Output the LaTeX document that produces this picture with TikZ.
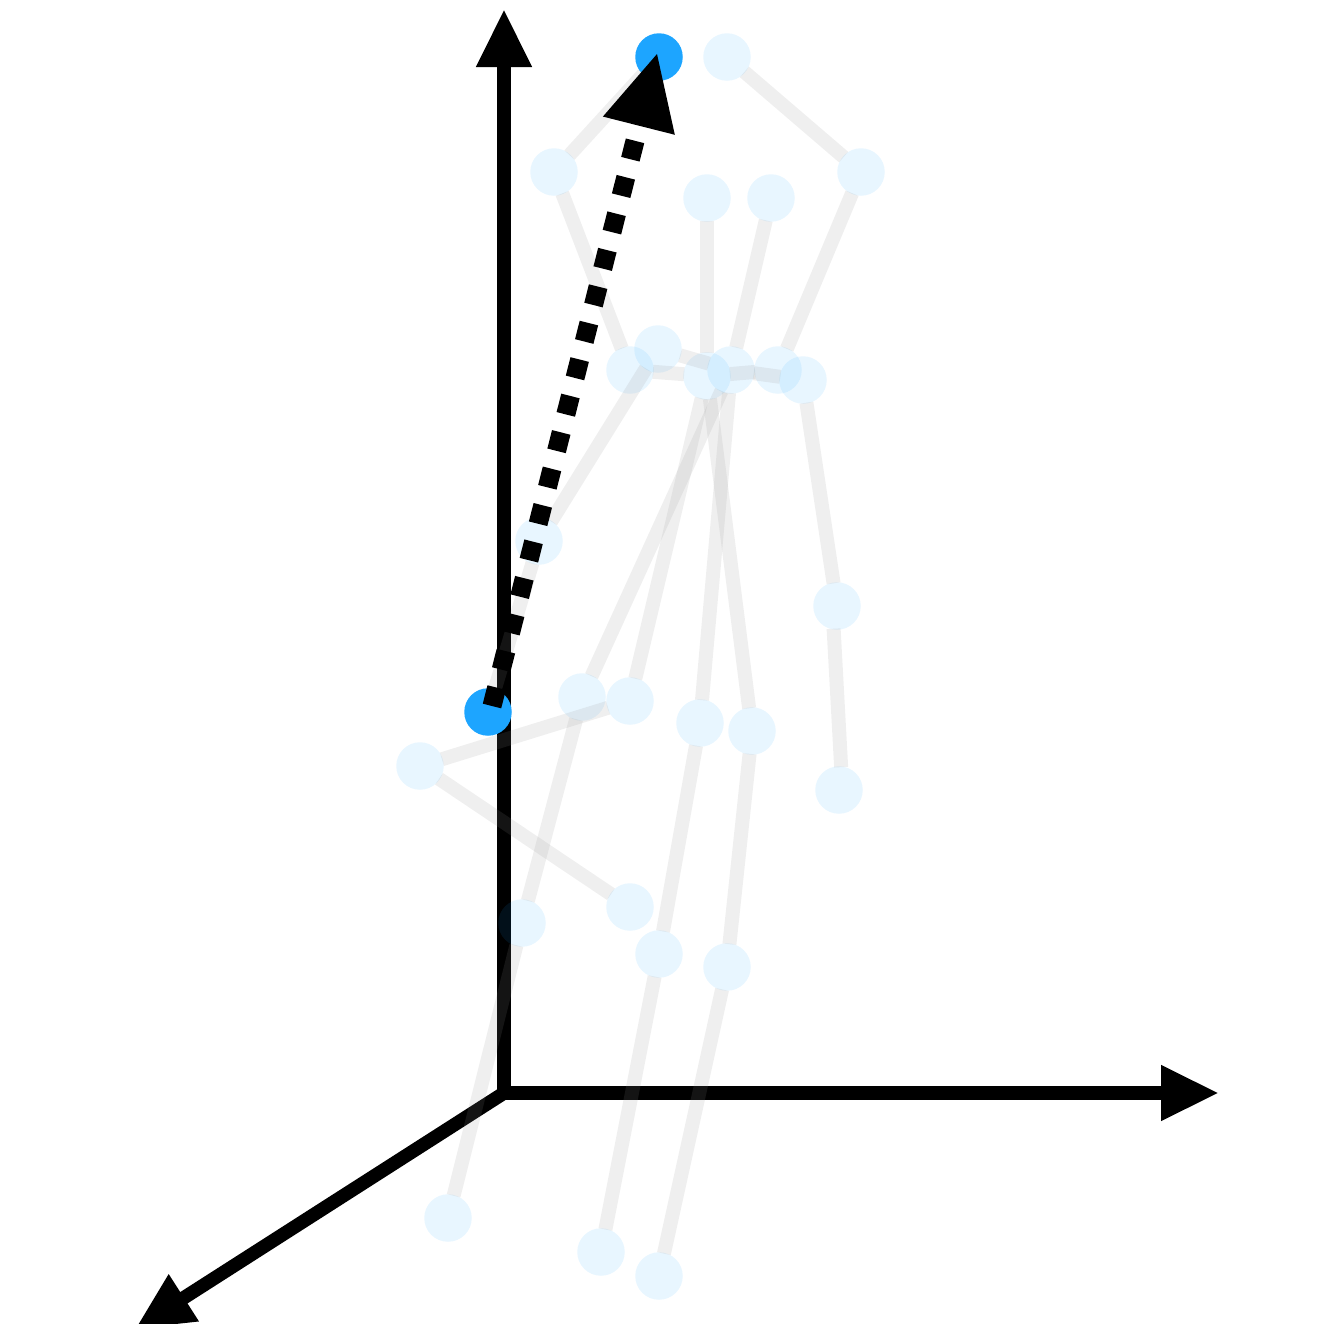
\documentclass[tikz,border=0pt]{standalone}
\usepackage{xcolor}
\usetikzlibrary{arrows.meta}
\definecolor{jointblue}{HTML}{1DA5FF}

\begin{document}
\begin{tikzpicture}[x=1pt,y=-1pt,
  axis line/.style={line width=13.5pt,line cap=rect,-{Triangle[length=58pt,width=52pt]}},
  joint node/.style={circle,minimum size=47.5pt,inner sep=0pt,fill=jointblue,fill opacity=0.1},
  end node/.style={circle,minimum size=47.5pt,inner sep=0pt,fill=jointblue},
  limb/.style={line width=14pt,color=black!44,opacity=0.14,shorten >=-1pt,shorten <=-1pt},
  motion/.style={line width=19pt,dash pattern=on 19pt off 18.6pt,-{Triangle[length=76pt,width=68pt]}}]

  \useasboundingbox (0,0) rectangle (1336,1336);
  \clip (0,0) rectangle (1336,1323);

  % axes
  \coordinate (origin) at (504,1093);
  \coordinate (up) at (504,9);
  \coordinate (right) at (1219,1093);
  \coordinate (front) at (135,1329);
  \draw[axis line] (origin) -- (up);
  \draw[axis line] (origin) -- (right);
  \draw[axis line] (origin) -- (front);

  % joints
  \node[end node] (1) at (659,57) {};
  \node[end node] (2) at (488,712) {};
  \node[joint node] (3) at (727,57) {};
  \node[joint node] (4) at (554,172) {};
  \node[joint node] (5) at (861,172) {};
  \node[joint node] (6) at (707,198) {};
  \node[joint node] (7) at (771,198) {};
  \node[joint node] (8) at (630,370) {};
  \node[joint node] (9) at (658,349) {};
  \node[joint node] (10) at (707,376) {};
  \node[joint node] (11) at (731,370) {};
  \node[joint node] (12) at (778,370) {};
  \node[joint node] (13) at (803,380) {};
  \node[joint node] (14) at (539,541) {};
  \node[joint node] (15) at (837,606) {};
  \node[joint node] (16) at (839,790) {};
  \node[joint node] (17) at (582,697) {};
  \node[joint node] (18) at (630,701) {};
  \node[joint node] (19) at (700,723) {};
  \node[joint node] (20) at (752,731) {};
  \node[joint node] (21) at (420,766) {};
  \node[joint node] (22) at (630,907) {};
  \node[joint node] (23) at (522,923) {};
  \node[joint node] (24) at (659,954) {};
  \node[joint node] (25) at (727,967) {};
  \node[joint node] (26) at (448,1218) {};
  \node[joint node] (27) at (601,1252) {};
  \node[joint node] (28) at (659,1276) {};

  % limbs
  \path[limb]
    (1) edge (4)
    (4) edge (8)
    (3) edge (5)
    (5) edge (12)
    (6) edge (10)
    (7) edge (11)
    (8) edge (10)
    (9) edge (11)
    (10) edge (12)
    (11) edge (13)
    (9) edge (14)
    (14) edge (2)
    (13) edge (15)
    (15.262) edge (16.85)
    (11) edge (17)
    (10) edge (18)
    (11) edge (19)
    (10) edge (20)
    (18) edge (21)
    (21) edge (22)
    (17) edge (23)
    (23) edge (26)
    (19) edge (24)
    (24) edge (27)
    (20) edge (25)
    (25) edge (28);

  % motion arrow
  \coordinate (from) at (492,706);
  \coordinate (to) at (657.5,52);
  \draw[motion] (from) -- (to);
\end{tikzpicture}
\end{document}
